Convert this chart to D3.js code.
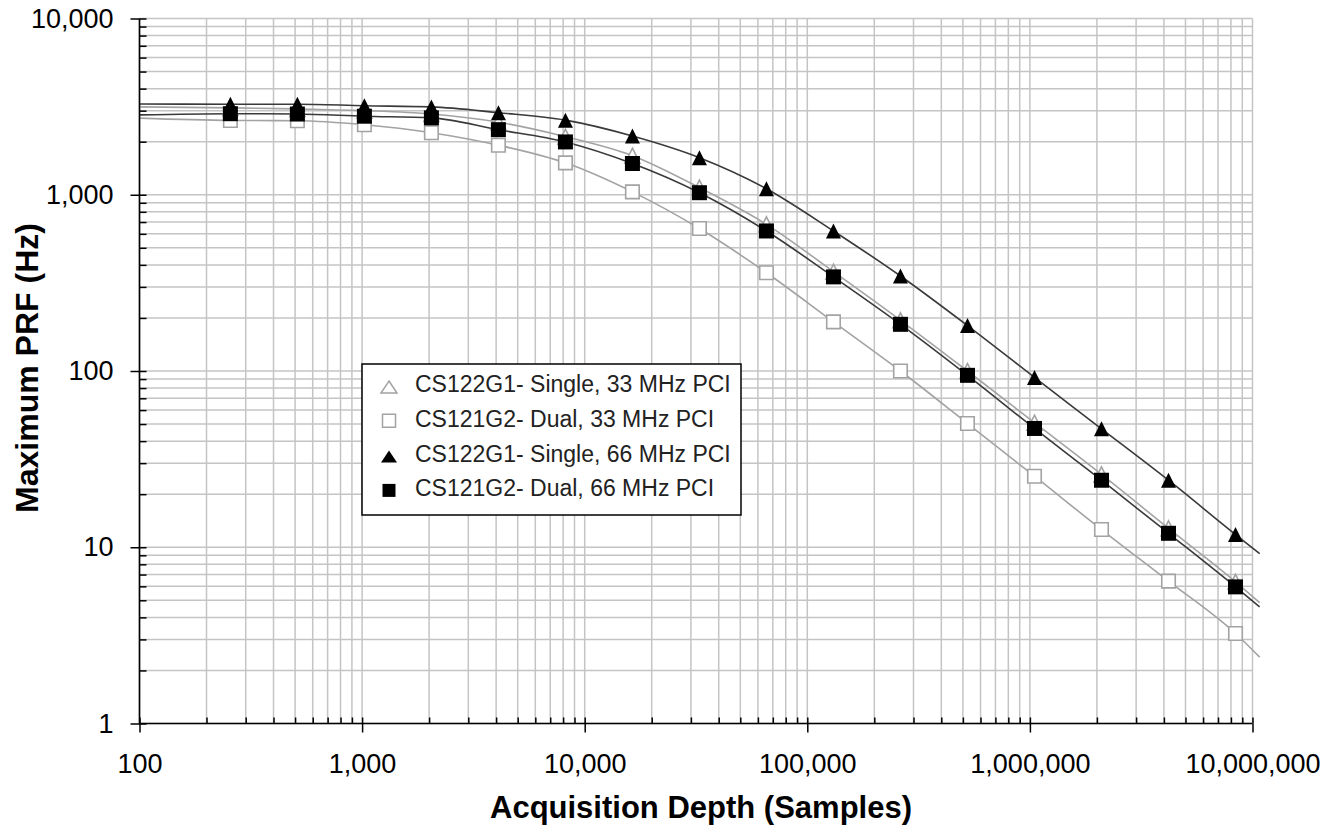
<!DOCTYPE html>
<html>
<head>
<meta charset="utf-8">
<script src="https://cdn.jsdelivr.net/npm/d3@7"></script>
<style>
  html, body { margin: 0; padding: 0; background: #fff; }
  svg { display: block; }
</style>
</head>
<body>
<svg id="chart" width="1335" height="839"></svg>
<script>
// ---------------- data ----------------
const depth = [256, 512, 1024, 2048, 4096, 8192, 16384, 32768, 65536, 131072, 262144, 524288, 1048576, 2097152, 4194304, 8388608];

const single33 = [3110, 3070, 3000, 2870, 2580, 2135, 1666, 1097, 679, 366, 194, 100, 50.9, 25.9, 12.8, 6.37];
const dual33   = [2640, 2630, 2496, 2249, 1910, 1517, 1038, 643, 361, 190, 100, 50.4, 25.3, 12.6, 6.42, 3.24];
const single66 = [3265, 3265, 3200, 3150, 2920, 2650, 2154, 1623, 1082, 623, 346, 181, 92, 47, 24, 11.8];
const dual66   = [2883, 2870, 2790, 2730, 2340, 1994, 1504, 1027, 623, 342, 184, 94.5, 47.2, 24.0, 12.0, 5.96];

// trend-line ends (left edge of the plot and just past the right edge)
const trendDepth = [100, 10770000];
const trendSingle33 = [3150, 4.85];
const trendDual33   = [2720, 2.38];
const trendSingle66 = [3270, 9.2];
const trendDual66   = [2840, 4.59];

const seriesNames = [
  "CS122G1- Single, 33 MHz PCI",
  "CS121G2- Dual, 33 MHz PCI",
  "CS122G1- Single, 66 MHz PCI",
  "CS121G2- Dual, 66 MHz PCI"
];

const xTickValues = [100, 1000, 10000, 100000, 1000000, 10000000];
const yTickValues = [1, 10, 100, 1000, 10000];
const xTitle = "Acquisition Depth (Samples)";
const yTitle = "Maximum PRF (Hz)";

// ---------------- layout ----------------
const L = 139.5, R = 1252.5, T = 18.5, B = 723.5;
const svg = d3.select("#chart");
const FONT = "'Liberation Sans', Arial, sans-serif";

const x = d3.scaleLog().domain([100, 10000000]).range([L, R]);
const y = d3.scaleLog().domain([1, 10000]).range([B, T]);

function minorTicks(lo, hi) {
  const out = [];
  for (let d = lo; d < hi; d *= 10) {
    for (let k = 1; k <= 9; k++) out.push(d * k);
  }
  out.push(hi);
  return out;
}
const xAll = minorTicks(100, 10000000);
const yAll = minorTicks(1, 10000);

// ---------------- grid ----------------
const grid = svg.append("g").attr("stroke", "#c4c4c4").attr("stroke-width", 1.5);
grid.selectAll("line.gx").data(xAll).join("line")
  .attr("x1", d => x(d)).attr("x2", d => x(d)).attr("y1", T).attr("y2", B);
grid.selectAll("line.gy").data(yAll).join("line")
  .attr("y1", d => y(d)).attr("y2", d => y(d)).attr("x1", L).attr("x2", R);

// ---------------- series ----------------
const series = [
  { name: seriesNames[0], vals: single33, trend: trendSingle33, line: "#a3a3a3", shape: "tri", fill: "#fff", stroke: "#a3a3a3" },
  { name: seriesNames[1], vals: dual33,   trend: trendDual33,   line: "#a3a3a3", shape: "sq",  fill: "#fff", stroke: "#a3a3a3" },
  { name: seriesNames[2], vals: single66, trend: trendSingle66, line: "#3a3a3a", shape: "tri", fill: "#000", stroke: "#000" },
  { name: seriesNames[3], vals: dual66,   trend: trendDual66,   line: "#3a3a3a", shape: "sq",  fill: "#000", stroke: "#000" }
];

const lineGen = d3.line().x(d => x(d[0])).y(d => y(d[1])).curve(d3.curveMonotoneX);

const lines = svg.append("g").attr("fill", "none");
series.forEach(s => {
  const pts = [[trendDepth[0], s.trend[0]]]
    .concat(depth.map((d, i) => [d, s.vals[i]]))
    .concat([[trendDepth[1], s.trend[1]]]);
  lines.append("path").attr("d", lineGen(pts))
    .attr("stroke", s.line).attr("stroke-width", 1.6);
});

function markerPath(shape, size) {
  const h = size / 2;
  if (shape === "tri") return `M0,${-h}L${h},${h}L${-h},${h}Z`;
  return `M${-h},${-h}H${h}V${h}H${-h}Z`;
}

const marks = svg.append("g");
series.forEach(s => {
  const hollow = s.fill === "#fff";
  const size = s.shape === "tri" ? 15 : (hollow ? 13.5 : 15);
  marks.append("g").selectAll("path").data(depth.map((d, i) => [d, s.vals[i]])).join("path")
    .attr("transform", d => `translate(${x(d[0])},${y(d[1])})`)
    .attr("d", markerPath(s.shape, size))
    .attr("fill", s.fill)
    .attr("stroke", hollow ? s.stroke : "none")
    .attr("stroke-width", hollow ? 1.6 : 0);
});

// ---------------- axes ----------------
const fmt = d3.format(",");

const yAxis = svg.append("g").attr("transform", `translate(${L},0)`)
  .call(d3.axisLeft(y).tickValues(yTickValues).tickFormat(fmt).tickSize(9).tickPadding(17));
svg.append("g").attr("transform", `translate(${L},0)`)
  .call(d3.axisRight(y).tickValues(yAll).tickFormat("").tickSize(7))
  .call(g => g.select(".domain").remove());

const xAxis = svg.append("g").attr("transform", `translate(0,${B})`)
  .call(d3.axisBottom(x).tickValues(xTickValues).tickFormat(fmt).tickSize(9).tickPadding(21));
svg.append("g").attr("transform", `translate(0,${B})`)
  .call(d3.axisTop(x).tickValues(xAll).tickFormat("").tickSize(6))
  .call(g => g.select(".domain").remove());

svg.selectAll(".domain").attr("stroke", "#000").attr("stroke-width", 1.6);
svg.selectAll(".tick line").attr("stroke", "#000").attr("stroke-width", 1.5);
yAxis.select(".domain").attr("d", `M0,${T}V${B}`);
xAxis.select(".domain").attr("d", `M${L},0H${R}`);

svg.selectAll(".tick text")
  .attr("font-family", FONT).attr("font-size", 27).attr("fill", "#000");

// ---------------- titles ----------------
svg.append("text")
  .attr("x", (L + R) / 2 + 5).attr("y", 818)
  .attr("text-anchor", "middle")
  .attr("font-family", FONT).attr("font-weight", "bold").attr("font-size", 31)
  .text(xTitle);

svg.append("text")
  .attr("transform", `translate(38,${(T + B) / 2 - 3}) rotate(-90)`)
  .attr("text-anchor", "middle")
  .attr("font-family", FONT).attr("font-weight", "bold").attr("font-size", 32)
  .text(yTitle);

// ---------------- legend ----------------
const lg = svg.append("g");
lg.append("rect").attr("x", 362).attr("y", 364).attr("width", 379).attr("height", 151)
  .attr("fill", "#fff").attr("stroke", "#000").attr("stroke-width", 1.5);
const legendRows = lg.selectAll("g.row").data(series).join("g")
  .attr("transform", (d, i) => `translate(0,${387 + i * 34.8})`);
legendRows.append("path")
  .attr("transform", d => `translate(389,${d.shape === "tri" ? 0 : -1})`)
  .attr("d", d => d.shape === "tri" ? "M0,-6L8,6L-8,6Z" : markerPath("sq", 13))
  .attr("fill", d => d.fill)
  .attr("stroke", d => d.fill === "#fff" ? d.stroke : "none")
  .attr("stroke-width", 1.5);
legendRows.append("text")
  .attr("x", 415).attr("y", 5)
  .attr("font-family", FONT).attr("font-size", 23).attr("fill", "#222")
  .text(d => d.name);
</script>
</body>
</html>
